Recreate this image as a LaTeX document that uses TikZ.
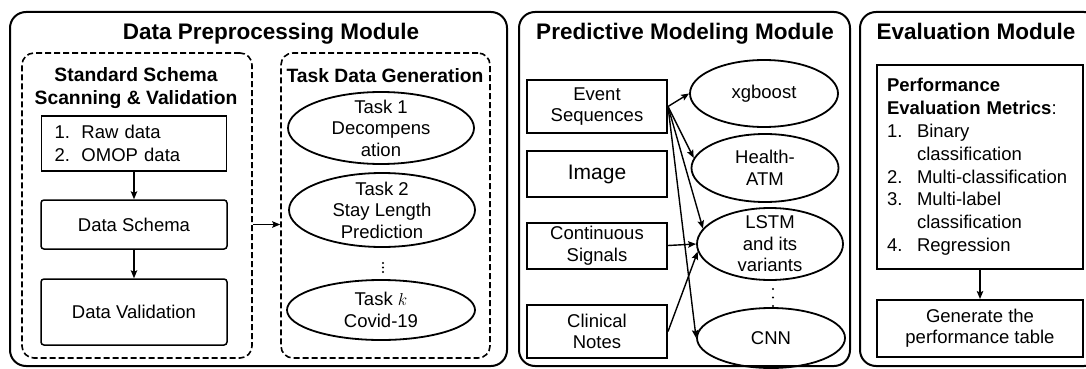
\documentclass[tikz,border=0pt]{standalone}
\usepackage{fontspec}
\setmainfont{Liberation Sans}
\usetikzlibrary{shapes.geometric,arrows.meta}
\newcommand\bodyfont{\fontsize{18.5}{21.5}\selectfont}

\begin{document}
\begin{tikzpicture}[x=1pt, y=-1pt, font=\bodyfont,
  module/.style={draw, line width=2, rounded corners=16, inner sep=0},
  dashbox/.style={draw, line width=1.6, dash pattern=on 6pt off 3pt, rounded corners=12, inner sep=0},
  title/.style={font=\fontsize{22.5}{27}\selectfont\bfseries, inner sep=0, anchor=base},
  subtitle/.style={font=\fontsize{19.3}{23}\selectfont\bfseries, inner sep=0, align=center},
  box/.style={draw, line width=1.5, inner sep=0, align=center},
  inbox/.style={draw, line width=2, inner sep=0, align=center},
  oval/.style={draw, ellipse, line width=1.8, inner sep=0},
  lbl/.style={align=center, inner sep=0},
  arr/.style={-{Stealth[length=8pt,width=6.5pt,inset=1.5pt]}, line width=1.4}]
  \useasboundingbox (0,0) rectangle (1086,369);
  \clip (0,0) rectangle (1086,369);

  % three modules
  \node[module, minimum width=497, minimum height=354] (prep) at (258.5,189) {};
  \node[module, minimum width=331, minimum height=354] (pred) at (684.5,189) {};
  \node[module, minimum width=240, minimum height=354] (eval) at (980,189) {};
  \node[title] (preptitle) at (271,39.5) {Data Preprocessing Module};
  \node[title] (predtitle) at (685,39.5) {Predictive Modeling Module};
  \node[title] (evaltitle) at (976,39.5) {Evaluation Module};

  % data preprocessing
  \node[dashbox, minimum width=230, minimum height=305] (scan) at (137,205.5) {};
  \node[dashbox, minimum width=209, minimum height=305] (gen) at (385.5,205.5) {};
  \node[subtitle] (scantitle) at (136,88.5) {Standard Schema\\Scanning \& Validation};
  \node[subtitle, anchor=base] (gentitle) at (385,82) {Task Data Generation};
  \node[box, align=left, text width=159, inner xsep=13, minimum height=55,
    font=\fontsize{18.5}{23}\selectfont] (raw) at (134,143.5)
    {\makebox[27pt][l]{1.}Raw data\\\makebox[27pt][l]{2.}OMOP data};
  \node[box, rounded corners=3, minimum width=186, minimum height=49] (schema) at (134,224.5) {Data Schema};
  \node[box, rounded corners=3, minimum width=186, minimum height=66] (valid) at (134,312) {Data Validation};
  \draw[arr] (raw) -- (schema);
  \draw[arr] (schema) -- (valid);
  \draw[arr] (scan.east |- schema) -- (gen.west |- schema);
  \node[oval, minimum width=186, minimum height=72,
    label={[lbl]center:{Task 1\\Decompens\\ation}}] (task1) at (381,128) {};
  \node[oval, minimum width=186, minimum height=74,
    label={[lbl]center:{Task 2\\Stay Length\\Prediction}}] (task2) at (382,210) {};
  \foreach \y in {263,267.5,272}
    \fill (383,\y) circle (1.2);
  \node[oval, minimum width=188, minimum height=60,
    label={[lbl]center:{Task $k$\\Covid-19}}] (taskk) at (381,310) {};

  % predictive modeling
  \node[inbox, minimum width=140, minimum height=53] (events) at (597,106.5) {Event\\Sequences};
  \node[inbox, minimum width=140, minimum height=46, font=\fontsize{21}{25}\selectfont] (image) at (597,174) {Image};
  \node[inbox, minimum width=140, minimum height=46] (signals) at (597,245.5) {Continuous\\Signals};
  \node[inbox, minimum width=140, minimum height=53] (notes) at (597,331.5) {Clinical\\Notes};
  \node[oval, minimum width=148, minimum height=67, label={[lbl]center:xgboost}] (xgb) at (764,93.5) {};
  \node[oval, minimum width=147, minimum height=68, label={[lbl]center:{Health-\\ATM}}] (hatm) at (765,168) {};
  \node[oval, minimum width=146, minimum height=72,
    label={[lbl]center:{LSTM\\and its\\variants}}] (lstm) at (770,244) {};
  \foreach \y in {289,297.5,306}
    \fill (773,\y) circle (1.2);
  \node[oval, minimum width=148, minimum height=60, label={[lbl]center:CNN}] (cnn) at (771,338) {};
  \draw[arr] (events.east) -- (xgb.west);
  \draw[arr] (events.east) -- (hatm.172);
  \draw[arr] (events.east) -- (lstm.167);
  \draw[arr] (events.east) -- (cnn.west);
  \draw[arr] (signals.east) -- (lstm.west);
  \draw[arr] (notes.east) -- (lstm.186);

  % evaluation
  \node[inbox, align=left, text width=186, inner xsep=10, minimum height=204,
    font=\fontsize{18.5}{22.8}\selectfont] (metrics) at (980,167)
    {\textbf{Performance}\\\textbf{Evaluation Metrics}:\\
     \makebox[30pt][l]{1.}Binary\\\hspace*{30pt}classification\\
     \makebox[30pt][l]{2.}Multi-classification\\
     \makebox[30pt][l]{3.}Multi-label\\\hspace*{30pt}classification\\
     \makebox[30pt][l]{4.}Regression};
  \node[inbox, minimum width=206, minimum height=57, font=\fontsize{18.5}{21}\selectfont] (table) at (980,328.5)
    {Generate the\\performance table};
  \draw[arr] (metrics) -- (table);
\end{tikzpicture}
\end{document}
